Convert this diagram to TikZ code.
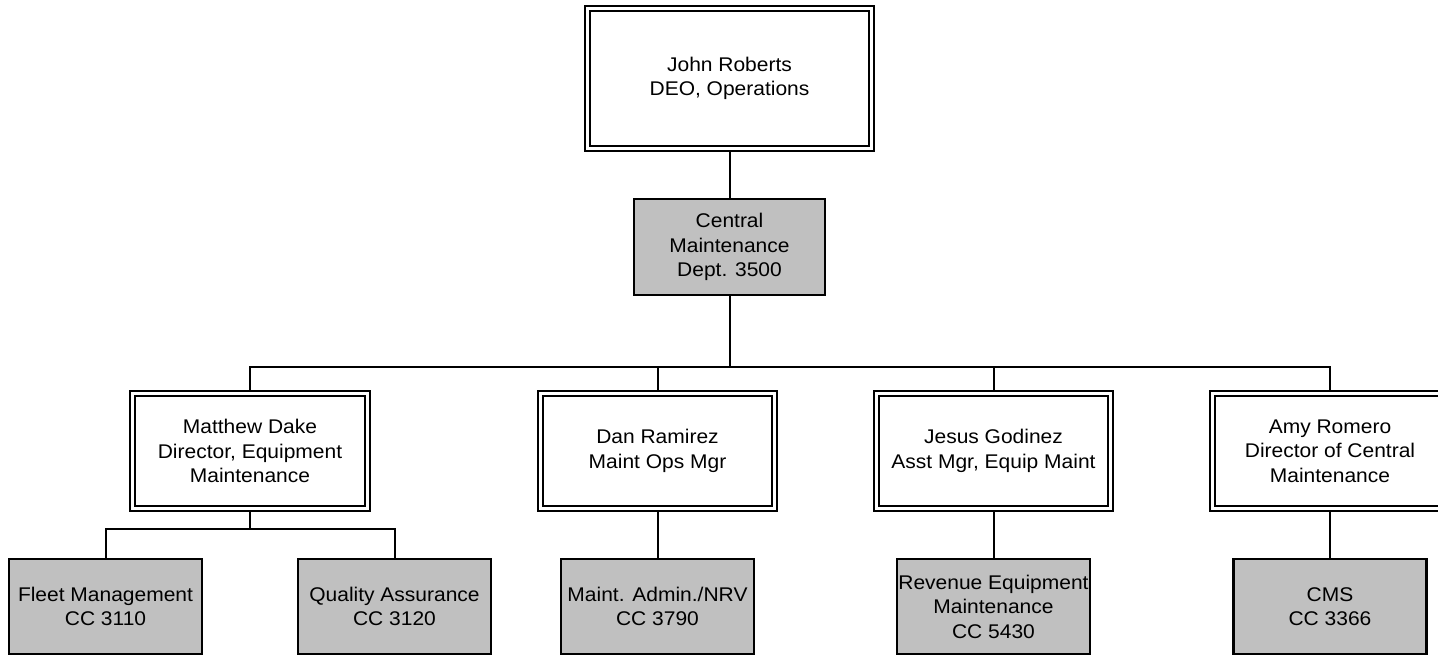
\documentclass[tikz,border=0pt]{standalone}
\usepackage{fontspec}
\setmainfont{Liberation Sans}[FakeStretch=1.06]
\begin{document}
\begin{tikzpicture}[x=1pt,y=-1pt,
  box/.style={draw,line width=2.2pt,outer sep=0pt,inner sep=0pt,align=center,
    font=\fontsize{19.8}{24.5}\selectfont},
  dbl/.style={box,fill=white},
  inner/.style={line width=1.5pt},
  grey/.style={box,fill=boxgrey},
  wire/.style={line width=2pt}]
\definecolor{boxgrey}{HTML}{C0C0C0}
\useasboundingbox[fill=white] (0,0) rectangle (1438,655);

\node[dbl,minimum width=289pt,minimum height=145pt] (top) at (729.5,78.5) {John Roberts\\DEO, Operations};
\node[grey,minimum width=191pt,minimum height=96pt] (cen) at (729.5,247) {Central\\Maintenance\\Dept. 3500};

\node[dbl,minimum width=240pt,minimum height=120pt] (mat) at (250,451) {Matthew Dake\\Director, Equipment\\Maintenance};
\node[dbl,minimum width=239pt,minimum height=120pt] (dan) at (657.5,451) {Dan Ramirez\\Maint Ops Mgr};
\node[dbl,minimum width=239pt,minimum height=120pt] (jes) at (993.5,451) {Jesus Godinez\\Asst Mgr, Equip Maint};
\node[dbl,minimum width=240pt,minimum height=120pt] (amy) at (1330,451) {Amy Romero\\Director of Central\\Maintenance};

\foreach \n in {top,mat,dan,jes,amy}
  \draw[inner] ([xshift=5pt,yshift=-5pt]\n.north west) rectangle ([xshift=-5pt,yshift=5pt]\n.south east);

\node[grey,minimum width=193pt,minimum height=95pt] (flt) at (105.5,606.5) {Fleet Management\\CC 3110};
\node[grey,minimum width=193pt,minimum height=95pt] (qa) at (394.5,606.5) {Quality Assurance\\CC 3120};
\node[grey,minimum width=193pt,minimum height=95pt] (adm) at (657.5,606.5) {Maint. Admin./NRV\\CC 3790};
\node[grey,minimum width=193pt,minimum height=95pt] (rev) at (993.5,606.5) {Revenue Equipment\\Maintenance\\CC 5430};
\node[grey,minimum width=193pt,minimum height=95pt] (cms) at (1330,606.5) {CMS\\CC 3366};

\coordinate (bus) at (729.5,367);
\coordinate (sub) at (250,529);

\draw[wire] (top.south) -- (cen.north);
\draw[wire] (cen.south) -- (bus);
\draw[wire] (mat.north) |- (bus) -| (amy.north);
\draw[wire] (dan.north) |- (bus);
\draw[wire] (jes.north) |- (bus);
\draw[wire] (mat.south) -- (sub);
\draw[wire] (flt.north) |- (sub) -| (qa.north);
\draw[wire] (dan.south) -- (adm.north);
\draw[wire] (jes.south) -- (rev.north);
\draw[wire] (amy.south) -- (cms.north);
\end{tikzpicture}
\end{document}
